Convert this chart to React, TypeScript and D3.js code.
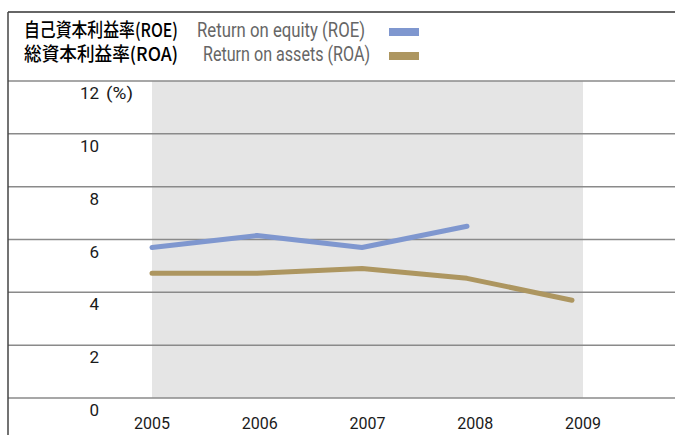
import React, { useEffect, useRef } from 'react';
import * as d3 from 'd3';

const years = ['2005', '2006', '2007', '2008', '2009'];
const roe = [5.7, 6.15, 5.7, 6.5];
const roa = [4.72, 4.72, 4.9, 4.53, 3.7];
const yTicks = [0, 2, 4, 6, 8, 10, 12];

const width = 675;
const height = 435;
const blue = '#7f97cf';
const gold = '#ad9660';
const rob = 'Roboto, "DejaVu Sans Condensed", sans-serif';
const jp = '"Noto Sans CJK JP", sans-serif';

export default function App() {
  const svgRef = useRef<SVGSVGElement>(null);

  useEffect(() => {
    const svg = d3.select(svgRef.current);
    svg.selectAll('*').remove();

    const y = d3.scaleLinear().domain([0, 12]).range([398, 81]);
    // year labels and the data points are not quite on the same spacing
    const xLab = d3.scalePoint().domain(years).range([152, 583]);
    const xPt = d3.scalePoint().domain(years).range([152, 572]);

    // shaded plot area
    svg.append('rect')
      .attr('x', 152).attr('y', y(12))
      .attr('width', 583 - 152).attr('height', y(0) - y(12))
      .attr('fill', '#e5e5e5');

    // grid
    svg.selectAll('line.grid')
      .data(yTicks)
      .enter()
      .append('line')
      .attr('class', 'grid')
      .attr('x1', 8).attr('x2', width)
      .attr('y1', d => y(d)).attr('y2', d => y(d))
      .attr('stroke', '#8a8a8a')
      .attr('stroke-width', 1.5);

    // frame: top and left
    svg.append('line').attr('x1', 8).attr('x2', width).attr('y1', 12).attr('y2', 12)
      .attr('stroke', '#333').attr('stroke-width', 1.5);
    svg.append('line').attr('x1', 8).attr('x2', 8).attr('y1', 12).attr('y2', height)
      .attr('stroke', '#444').attr('stroke-width', 1.5);

    // y labels
    svg.selectAll('text.ytick')
      .data(yTicks)
      .enter()
      .append('text')
      .attr('class', 'ytick')
      .attr('x', 99)
      .attr('y', d => y(d) + 18)
      .attr('text-anchor', 'end')
      .attr('font-family', rob)
      .attr('font-size', 17)
      .attr('fill', '#1a1a1a')
      .text(d => d);
    svg.append('text')
      .attr('x', 106).attr('y', y(12) + 18)
      .attr('font-family', rob).attr('font-size', 17).attr('fill', '#1a1a1a')
      .attr('textLength', 27).attr('lengthAdjust', 'spacingAndGlyphs')
      .text('(%)');

    // x labels
    svg.selectAll('text.xtick')
      .data(years)
      .enter()
      .append('text')
      .attr('class', 'xtick')
      .attr('x', d => xLab(d))
      .attr('y', 429)
      .attr('text-anchor', 'middle')
      .attr('font-family', rob)
      .attr('font-size', 17)
      .attr('fill', '#1a1a1a')
      .attr('textLength', 36).attr('lengthAdjust', 'spacingAndGlyphs')
      .text(d => d);

    const line = d3.line<number>()
      .x((d, i) => xPt(years[i]) as number)
      .y(d => y(d));

    svg.append('path').datum(roe).attr('d', line)
      .attr('fill', 'none').attr('stroke', blue).attr('stroke-width', 5)
      .attr('stroke-linecap', 'round').attr('stroke-linejoin', 'round');
    svg.append('path').datum(roa).attr('d', line)
      .attr('fill', 'none').attr('stroke', gold).attr('stroke-width', 5)
      .attr('stroke-linecap', 'round').attr('stroke-linejoin', 'round');

    // legend
    const legend = [
      { jp: '自己資本利益率(ROE)', en: 'Return on equity (ROE)', c: blue, y: 37, enX: 197, enW: 168 },
      { jp: '総資本利益率(ROA)', en: 'Return on assets (ROA)', c: gold, y: 61, enX: 203, enW: 167 },
    ];
    legend.forEach(l => {
      svg.append('text')
        .attr('x', 24).attr('y', l.y)
        .attr('font-family', jp).attr('font-size', 19).attr('font-weight', 500)
        .attr('fill', '#000')
        .attr('textLength', 154).attr('lengthAdjust', 'spacingAndGlyphs')
        .text(l.jp);
      svg.append('text')
        .attr('x', l.enX).attr('y', l.y)
        .attr('font-family', rob).attr('font-size', 20)
        .attr('fill', '#666')
        .attr('textLength', l.enW).attr('lengthAdjust', 'spacingAndGlyphs')
        .text(l.en);
      svg.append('rect')
        .attr('x', 389).attr('y', l.y - 9)
        .attr('width', 30).attr('height', 8)
        .attr('fill', l.c);
    });
  }, []);

  return (
    <svg ref={svgRef} width={width} height={height}
      style={{ position: 'absolute', left: 0, top: 0, background: '#fff' }} />
  );
}
